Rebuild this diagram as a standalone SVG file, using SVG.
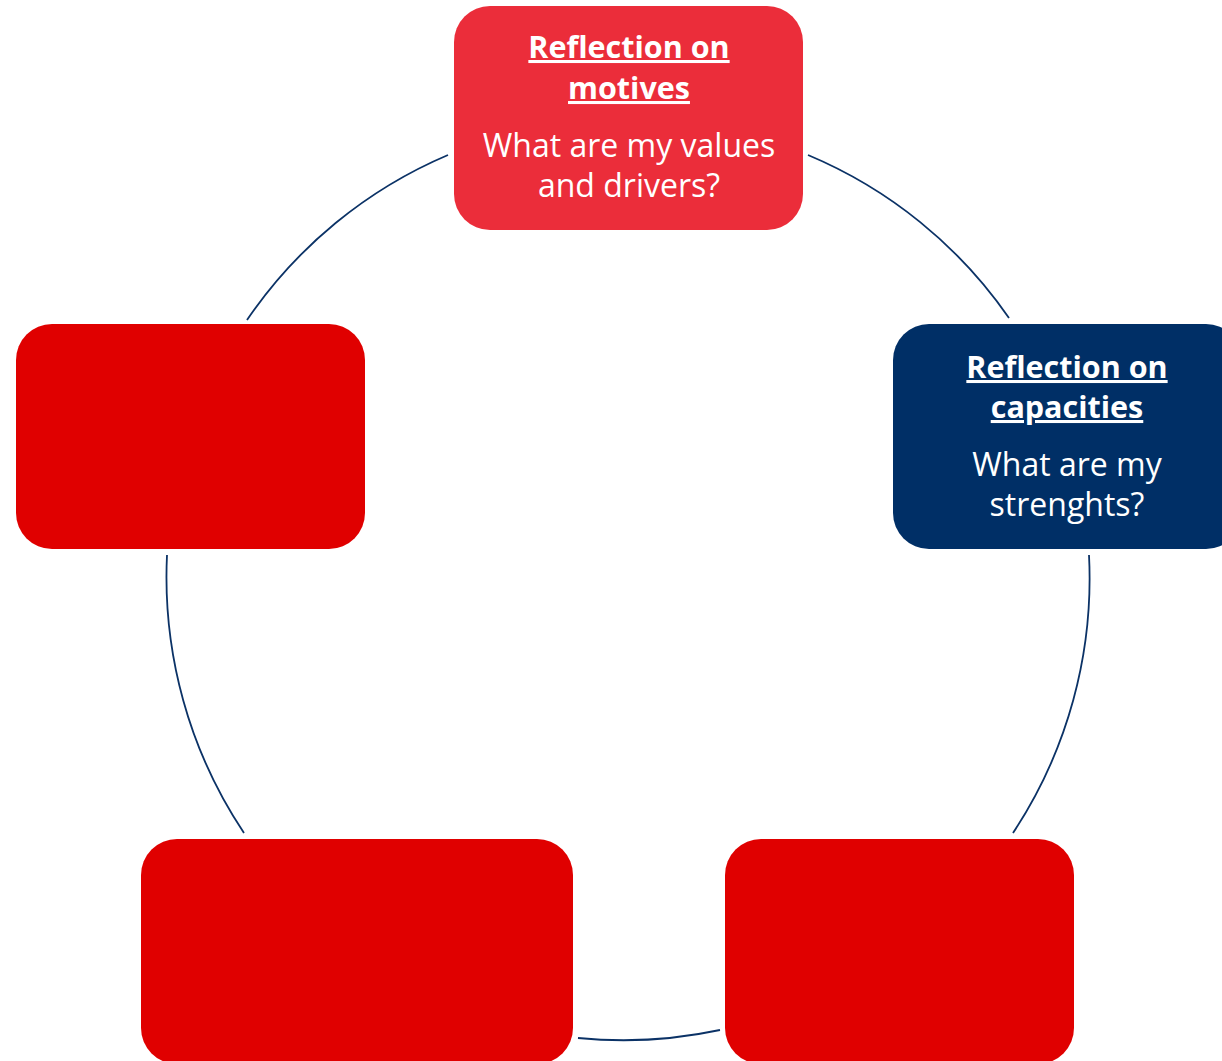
<svg xmlns="http://www.w3.org/2000/svg" width="1222" height="1061" viewBox="0 0 1222 1061">
<style>
.arc{fill:none;stroke:#0B3266;stroke-width:1.8}
.t{font-family:"Open Sans",Lato,sans-serif;fill:#fff;text-anchor:middle}
.h{font-weight:bold;font-size:30.5px;text-decoration:underline}
.b{font-size:32px}
</style>
<rect width="1222" height="1061" fill="#fff"/>
<g id="connectors">
<path class="arc" d="M247,320 A461,461 0 0 1 448,155"/>
<path class="arc" d="M808,155 A461,461 0 0 1 1009,318"/>
<path class="arc" d="M1089,555 A461,461 0 0 1 1013,833"/>
<path class="arc" d="M720,1030 A461,461 0 0 1 578,1038"/>
<path class="arc" d="M244,833 A461,461 0 0 1 167,555"/>
</g>
<g id="motives">
<rect x="454" y="6" width="349" height="224" rx="36" fill="#EB2D3A"/>
<text class="t h" x="629" y="58">Reflection on</text>
<text class="t h" x="629" y="99">motives</text>
<text class="t b" x="629" y="157">What are my values</text>
<text class="t b" x="629" y="197">and drivers?</text>
</g>
<g id="capacities">
<rect x="893" y="324" width="349" height="225" rx="36" fill="#002F66"/>
<text class="t h" x="1067" y="378">Reflection on</text>
<text class="t h" x="1067" y="418">capacities</text>
<text class="t b" x="1067" y="476">What are my</text>
<text class="t b" x="1067" y="516">strenghts?</text>
</g>
<g id="left">
<rect x="16" y="324" width="349" height="225" rx="36" fill="#E00000"/>
</g>
<g id="bottom-left">
<rect x="141" y="839" width="432" height="225" rx="36" fill="#E00000"/>
</g>
<g id="bottom-right">
<rect x="725" y="839" width="349" height="225" rx="36" fill="#E00000"/>
</g>
</svg>
